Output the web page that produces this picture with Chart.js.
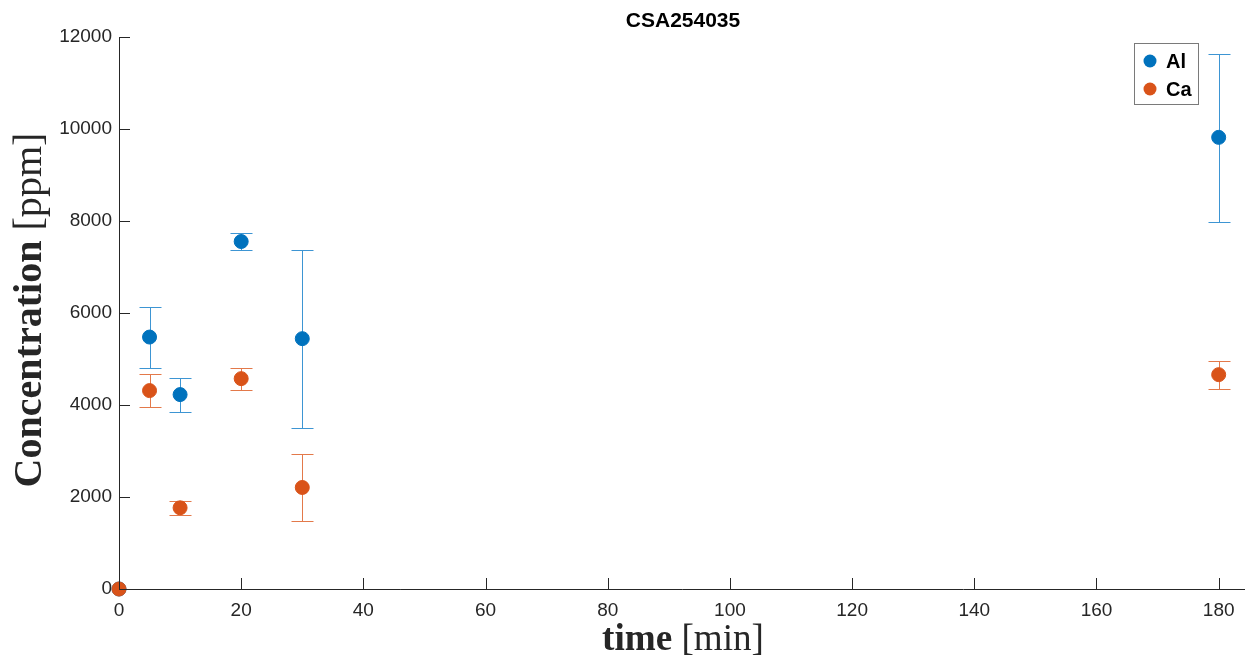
<!DOCTYPE html>
<html>
<head>
<meta charset="utf-8">
<script src="https://cdn.jsdelivr.net/npm/chart.js@4"></script>
<style>
  html, body { margin: 0; padding: 0; background: #fff; }
  #wrap { width: 1245px; height: 660px; }
</style>
</head>
<body>
<div id="wrap"><canvas id="chart" width="1245" height="660"></canvas></div>
<script>
// sample times [min]
const times = [0, 5, 10, 20, 30, 180];

// Al concentration and error bar ends [ppm]
const alValues = [0, 5477, 4226, 7554, 5442, 9818];
const alLow = [0, 4797, 3849, 7380, 3510, 7988];
const alHigh = [0, 6120, 4595, 7735, 7374, 11628];

// Ca concentration and error bar ends [ppm]
const caValues = [0, 4313, 1765, 4573, 2207, 4660];
const caLow = [0, 3957, 1606, 4335, 1469, 4356];
const caHigh = [0, 4674, 1910, 4812, 2930, 4964];

const seriesNames = ["Al", "Ca"];
const xTicks = [0, 20, 40, 60, 80, 100, 120, 140, 160, 180];
const yTicks = [0, 2000, 4000, 6000, 8000, 10000, 12000];

const axisColor = "#262626";
const blue = "#0072BD";
const orange = "#D95319";
const sans = "'Liberation Sans', Arial, sans-serif";
const serif = "'Liberation Serif', 'DejaVu Serif', serif";

const toPoints = (vals) => vals.map((v, i) => ({ x: times[i], y: v }));

// error bars drawn before the markers
const errorBars = {
  id: "errorBars",
  beforeDatasetsDraw(chart) {
    const { ctx, scales: { x, y } } = chart;
    const sets = [
      { low: alLow, high: alHigh, color: "#3d95d3" },
      { low: caLow, high: caHigh, color: "#e3794a" },
    ];
    ctx.save();
    ctx.lineWidth = 1;
    sets.forEach(({ low, high, color }) => {
      ctx.strokeStyle = color;
      times.forEach((t, i) => {
        if (high[i] === low[i]) return;
        const px = Math.round(x.getPixelForValue(t)) + 0.5;
        const top = Math.round(y.getPixelForValue(high[i])) + 0.5;
        const bot = Math.round(y.getPixelForValue(low[i])) + 0.5;
        ctx.beginPath();
        ctx.moveTo(px, top); ctx.lineTo(px, bot);
        ctx.moveTo(px - 11, top); ctx.lineTo(px + 11, top);
        ctx.moveTo(px - 11, bot); ctx.lineTo(px + 11, bot);
        ctx.stroke();
      });
    });
    ctx.restore();
  },
};

// MATLAB-like axes: inward ticks, labels, title, legend
const decorations = {
  id: "decorations",
  afterDraw(chart) {
    const { ctx, chartArea: a, scales: { x, y } } = chart;
    ctx.save();
    ctx.strokeStyle = axisColor;
    ctx.lineWidth = 1;
    ctx.beginPath();
    ctx.moveTo(a.left + 0.5, a.top); ctx.lineTo(a.left + 0.5, a.bottom + 0.5);
    ctx.lineTo(1245, a.bottom + 0.5);
    xTicks.forEach((t) => {
      const px = Math.round(x.getPixelForValue(t)) + 0.5;
      ctx.moveTo(px, a.bottom); ctx.lineTo(px, a.bottom - 11);
    });
    yTicks.forEach((t) => {
      const py = Math.round(y.getPixelForValue(t)) + 0.5;
      ctx.moveTo(a.left, py); ctx.lineTo(a.left + 11, py);
    });
    ctx.stroke();

    // title
    ctx.fillStyle = "#000";
    ctx.font = "bold 21px " + sans;
    ctx.textAlign = "center";
    ctx.textBaseline = "alphabetic";
    ctx.fillText("CSA254035", 683, 27);

    // axis labels: bold word + normal unit, fitted to the reference width
    const mixed = (bold, normal, cx, cy, width) => {
      ctx.font = "bold 32px " + serif; const wb0 = ctx.measureText(bold).width;
      ctx.font = "32px " + serif; const wn0 = ctx.measureText(normal).width;
      const size = 32 * width / (wb0 + wn0);
      const fb = "bold " + size + "px " + serif;
      const fn = size + "px " + serif;
      ctx.font = fb; const wb = ctx.measureText(bold).width;
      ctx.font = fn; const wn = ctx.measureText(normal).width;
      const start = cx - (wb + wn) / 2;
      ctx.textAlign = "left";
      ctx.fillStyle = "#262626";
      ctx.font = fb; ctx.fillText(bold, start, cy);
      ctx.font = fn; ctx.fillText(normal, start + wb, cy);
    };
    mixed("time", " [min]", 683, 650, 162);
    ctx.save();
    ctx.translate(41, 310);
    ctx.rotate(-Math.PI / 2);
    mixed("Concentration", " [ppm]", 0, 0, 355);
    ctx.restore();

    // legend box
    const lx = 1134, ly = 43, lw = 64, lh = 61;
    ctx.fillStyle = "#fff";
    ctx.fillRect(lx, ly, lw, lh);
    ctx.strokeStyle = "#7a7a7a";
    ctx.strokeRect(lx + 0.5, ly + 0.5, lw, lh);
    const entries = [
      { name: seriesNames[0], color: blue, cy: 61 },
      { name: seriesNames[1], color: orange, cy: 89 },
    ];
    ctx.font = "bold 20px " + sans;
    ctx.textAlign = "left";
    ctx.textBaseline = "middle";
    entries.forEach(({ name, color, cy }) => {
      ctx.fillStyle = color;
      ctx.beginPath();
      ctx.arc(1150, cy, 6.5, 0, Math.PI * 2);
      ctx.fill();
      ctx.fillStyle = "#000";
      ctx.fillText(name, 1166, cy + 1);
    });
    ctx.restore();
  },
};

new Chart(document.getElementById("chart"), {
  type: "scatter",
  data: {
    // Ca listed first so it is drawn on top (covers Al at t = 0)
    datasets: [
      {
        label: seriesNames[1],
        data: toPoints(caValues),
        backgroundColor: orange,
        borderColor: orange,
        pointRadius: 7,
        pointHoverRadius: 7,
        clip: false,
      },
      {
        label: seriesNames[0],
        data: toPoints(alValues),
        backgroundColor: blue,
        borderColor: blue,
        pointRadius: 7,
        pointHoverRadius: 7,
        clip: false,
      },
    ],
  },
  options: {
    responsive: false,
    animation: false,
    events: [],
    layout: { padding: { top: 37, right: 2, left: 0, bottom: 0 } },
    plugins: { legend: { display: false }, tooltip: { enabled: false } },
    scales: {
      x: {
        type: "linear",
        min: 0,
        max: 183,
        afterFit: (s) => { s.height = 71; s.paddingLeft = 0; s.paddingRight = 0; },
        grid: { display: false, drawTicks: false },
        border: { display: false },
        ticks: {
          stepSize: 20,
          includeBounds: false,
          color: axisColor,
          padding: 10,
          font: { family: sans, size: 19 },
        },
      },
      y: {
        type: "linear",
        min: 0,
        max: 12000,
        afterFit: (s) => { s.width = 119; s.paddingTop = 0; s.paddingBottom = 0; },
        grid: { display: false, drawTicks: false },
        border: { display: false },
        ticks: {
          stepSize: 2000,
          color: axisColor,
          padding: 7,
          callback: (v) => String(v),
          font: { family: sans, size: 19 },
        },
      },
    },
  },
  plugins: [errorBars, decorations],
});
</script>
</body>
</html>
